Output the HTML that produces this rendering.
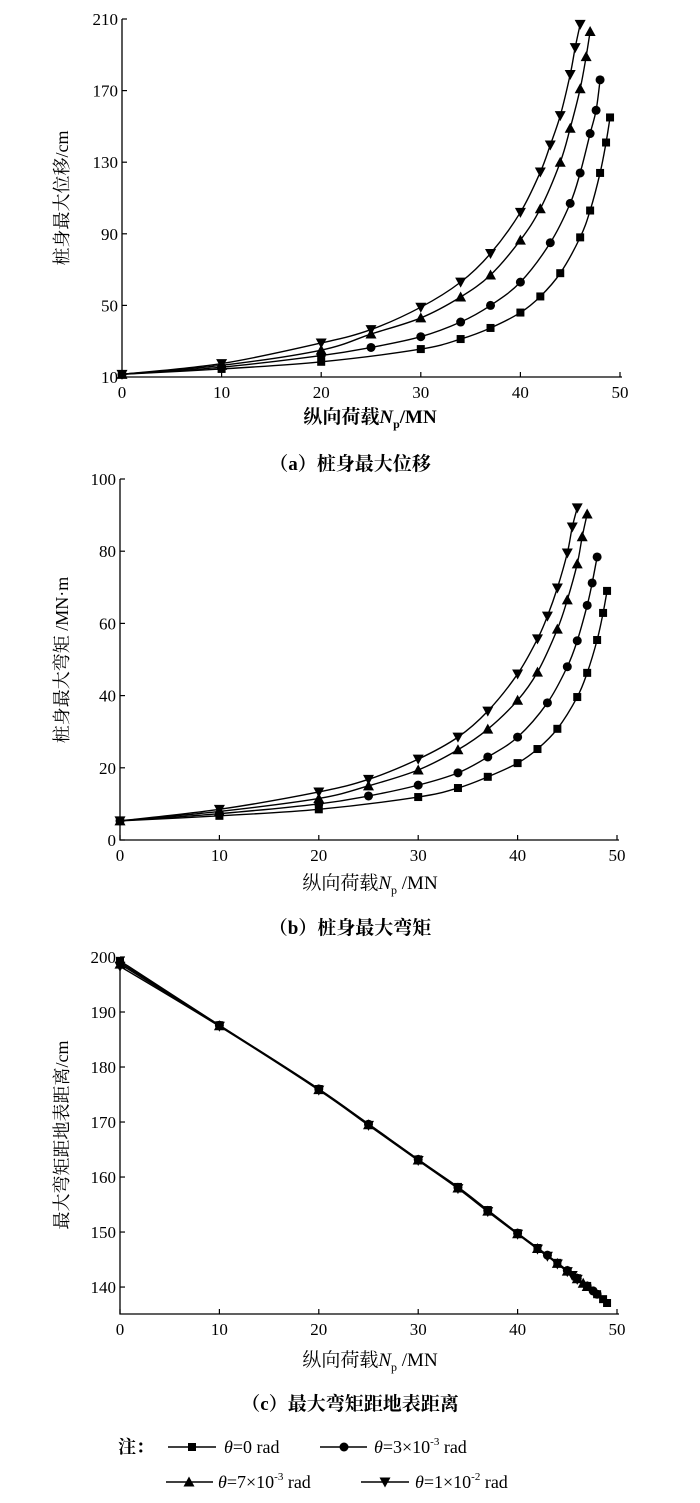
<!DOCTYPE html>
<html><head><meta charset="utf-8">
<style>
html,body{margin:0;padding:0;background:#fff;}
svg{display:block;}
text{font-family:"Liberation Serif","Noto Serif CJK SC",serif;fill:#000;}
</style></head>
<body>
<svg id="c" width="700" height="1503" viewBox="0 0 700 1503">
<text x="370" y="423" font-size="19" font-weight="bold" text-anchor="middle">纵向荷载<tspan font-style="italic">N</tspan><tspan font-size="12" dy="5">p</tspan><tspan dy="-5">/MN</tspan></text>
<text x="350" y="470" font-size="19" font-weight="bold" text-anchor="middle">（a）桩身最大位移</text>
<text x="370" y="889" font-size="19" text-anchor="middle">纵向荷载<tspan font-style="italic">N</tspan><tspan font-size="12" dy="5">p</tspan><tspan dy="-5"> /MN</tspan></text>
<text x="350" y="934" font-size="19" font-weight="bold" text-anchor="middle">（b）桩身最大弯矩</text>
<text x="370" y="1366" font-size="19" text-anchor="middle">纵向荷载<tspan font-style="italic">N</tspan><tspan font-size="12" dy="5">p</tspan><tspan dy="-5"> /MN</tspan></text>
<text x="350" y="1410" font-size="19" font-weight="bold" text-anchor="middle">（c）最大弯矩距地表距离</text>
<g>
<text x="118" y="1453" font-size="18" font-weight="bold">注：</text>
<g>
<line x1="168" y1="1447" x2="216" y2="1447" stroke="#000" stroke-width="1.4"/><rect x="188" y="1443" width="8" height="8" fill="#000"/>
<text x="224" y="1453" font-size="18"><tspan font-style="italic">θ</tspan>=0 rad</text></g>
<g>
<line x1="320" y1="1447" x2="367" y2="1447" stroke="#000" stroke-width="1.4"/><circle cx="344" cy="1447" r="4.5" fill="#000"/>
<text x="374" y="1453" font-size="18"><tspan font-style="italic">θ</tspan>=3×10<tspan font-size="11" dy="-8">-3</tspan><tspan dy="8"> rad</tspan></text></g>
<g>
<line x1="166" y1="1482" x2="213" y2="1482" stroke="#000" stroke-width="1.4"/><polygon points="189,1476.5 183.5,1486.5 194.5,1486.5" fill="#000"/>
<text x="218" y="1488" font-size="18"><tspan font-style="italic">θ</tspan>=7×10<tspan font-size="11" dy="-8">-3</tspan><tspan dy="8"> rad</tspan></text></g>
<g>
<line x1="361" y1="1482" x2="409" y2="1482" stroke="#000" stroke-width="1.4"/><polygon points="385,1487.5 379.5,1477.5 390.5,1477.5" fill="#000"/>
<text x="415" y="1488" font-size="18"><tspan font-style="italic">θ</tspan>=1×10<tspan font-size="11" dy="-8">-2</tspan><tspan dy="8"> rad</tspan></text></g>
</g>
</svg>
<script>
// ---------- data ----------
const aSqN=[0,10,20,30,34,37,40,42,44,46,47,48,48.6,49];
const aSqV=[11.5,14.5,18.5,25.6,31.2,37.4,46,55,68,88,103,124,141,155];
const aCiN=[0,10,20,25,30,34,37,40,43,45,46,47,47.6,48];
const aCiV=[11.5,15.5,22,26.5,32.5,40.7,50,63,85,107,124,146,159,176];
const aTrN=[0,10,20,25,30,34,37,40,42,44,45,46,46.6,47];
const aTrV=[11.5,16.5,25,34,43,54.7,67,86.5,104,130,149,171,189,203];
const aIvN=[0,10,20,25,30,34,37,40,42,43,44,45,45.5,46];
const aIvV=[11.5,17.5,29,36.5,49,63,79,102,124.5,139.6,156,179,194,207];
const aYTicks=[10,50,90,130,170,210];
const xTicks=[0,10,20,30,40,50];
const bSqN=[0,10,20,30,34,37,40,42,44,46,47,48,48.6,49];
const bSqV=[5.3,6.7,8.5,11.9,14.4,17.5,21.3,25.2,30.8,39.6,46.3,55.4,62.9,69];
const bCiN=[0,10,20,25,30,34,37,40,43,45,46,47,47.5,48];
const bCiV=[5.3,7.3,10,12.2,15.2,18.6,23,28.5,38,48,55.2,65,71.2,78.4];
const bTrN=[0,10,20,25,30,34,37,40,42,44,45,46,46.5,47];
const bTrV=[5.3,7.9,11.5,15,19.4,25,30.7,38.7,46.5,58.4,66.5,76.5,84,90.3];
const bIvN=[0,10,20,25,30,34,37,40,42,43,44,45,45.5,46];
const bIvV=[5.3,8.5,13.3,16.8,22.4,28.5,35.7,46,55.7,62,69.8,79.5,86.7,92];
const bYTicks=[0,20,40,60,80,100];
const cSqN=[0,10,20,30,34,37,40,42,44,46,47,48,48.6,49];
const cSqV=[199.3,187.6,176,163.2,158.2,154,149.8,147.1,144.4,141.6,140.2,138.7,137.8,137.1];
const cCiN=[0,10,20,25,30,34,37,40,43,45,46,47,47.6,48];
const cCiV=[199,187.6,176,169.6,163.2,158.1,153.9,149.8,145.8,143,141.6,140.2,139.3,138.7];
const cTrN=[0,10,20,25,30,34,37,40,42,44,45,46,46.6,47];
const cTrV=[198.7,187.5,175.9,169.5,163.1,158,153.8,149.7,147,144.3,142.9,141.5,140.7,140.1];
const cIvN=[0,10,20,25,30,34,37,40,42,43,44,45,45.5,46];
const cIvV=[198.3,187.4,175.8,169.4,163,157.9,153.7,149.6,146.9,145.6,144.2,142.8,142.1,141.4];
const cYTicks=[140,150,160,170,180,190,200];

const NS='http://www.w3.org/2000/svg';
const svg=document.getElementById('c');
function mk(tag,attrs,parent){const e=document.createElementNS(NS,tag);for(const k in attrs)e.setAttribute(k,attrs[k]);(parent||svg).appendChild(e);return e;}
function txt(s,x,y,size,parent,extra){const t=mk('text',Object.assign({x:x,y:y,'font-size':size,'text-anchor':'middle'},extra||{}),parent);t.textContent=s;return t;}

function marker(g,type,x,y){
  let e;
  if(type==='sq'){e=mk('rect',{x:x-4,y:y-4,width:8,height:8,fill:'#000'},g);}
  else if(type==='ci'){e=mk('circle',{cx:x,cy:y,r:4.5,fill:'#000'},g);}
  else if(type==='tr'){e=mk('polygon',{points:`${x},${y-5.5} ${x-5.5},${y+4.5} ${x+5.5},${y+4.5}`,fill:'#000'},g);}
  else {e=mk('polygon',{points:`${x},${y+5.5} ${x-5.5},${y-4.5} ${x+5.5},${y-4.5}`,fill:'#000'},g);}
  
  
}

function chart(cfg){
  const g=mk('g',{});
  
  
  const sx=v=>cfg.x0+(v-cfg.xmin)/(cfg.xmax-cfg.xmin)*(cfg.x1-cfg.x0);
  const sy=v=>cfg.y0-(v-cfg.ymin)/(cfg.ymax-cfg.ymin)*(cfg.y0-cfg.y1);
  const ax=mk('path',{d:`M${cfg.x0},${cfg.y1} L${cfg.x0},${cfg.y0} L${cfg.x1+2},${cfg.y0}`,stroke:'#000','stroke-width':1.3,fill:'none'},g);
  
  
  xTicks.forEach(v=>{
    const x=sx(v);
    mk('line',{x1:x,y1:cfg.y0,x2:x,y2:cfg.y0-5,stroke:'#000','stroke-width':1.2},g);
    const t=txt(String(v),x,cfg.y0+21,17,g);
    
    
  });
  cfg.yt.forEach(v=>{
    const y=sy(v);
    mk('line',{x1:cfg.x0,y1:y,x2:cfg.x0+5,y2:y,stroke:'#000','stroke-width':1.2},g);
    const t=txt(String(v),cfg.x0-4,y+6,17,g,{'text-anchor':'end'});
    
    
  });
  cfg.series.forEach(s=>{
    const pts=s.n.map((n,i)=>[sx(n),sy(s.v[i])]);
    let d='M'+pts[0][0]+','+pts[0][1];
    for(let i=0;i<pts.length-1;i++){
      const p0=pts[Math.max(0,i-1)],p1=pts[i],p2=pts[i+1],p3=pts[Math.min(pts.length-1,i+2)];
      const c1=[p1[0]+(p2[0]-p0[0])/6,p1[1]+(p2[1]-p0[1])/6];
      const c2=[p2[0]-(p3[0]-p1[0])/6,p2[1]-(p3[1]-p1[1])/6];
      d+=` C${c1[0]},${c1[1]} ${c2[0]},${c2[1]} ${p2[0]},${p2[1]}`;
    }
    const l=mk('path',{d:d,stroke:'#000','stroke-width':1.4,fill:'none'},g);
    
    
    pts.forEach(p=>marker(g,s.t,p[0],p[1]));
  });
  const yt=txt(cfg.ytitle,0,0,cfg.ysize||18,g,{transform:`translate(${cfg.ytx},${cfg.yty}) rotate(-90)`});
  
  
  return g;
}

chart({name:'chart-a-max-displacement',x0:122,x1:620,y0:377,y1:19,xmin:0,xmax:50,ymin:10,ymax:210,yt:aYTicks,
  ytitle:'桩身最大位移/cm',ytx:68,yty:198,
  series:[{n:aSqN,v:aSqV,t:'sq'},{n:aCiN,v:aCiV,t:'ci'},{n:aTrN,v:aTrV,t:'tr'},{n:aIvN,v:aIvV,t:'iv'}]});
chart({name:'chart-b-max-moment',x0:120,x1:617,y0:840,y1:479,xmin:0,xmax:50,ymin:0,ymax:100,yt:bYTicks,
  ytitle:'桩身最大弯矩 /MN·m',ytx:68,yty:660,
  series:[{n:bSqN,v:bSqV,t:'sq'},{n:bCiN,v:bCiV,t:'ci'},{n:bTrN,v:bTrV,t:'tr'},{n:bIvN,v:bIvV,t:'iv'}]});
chart({name:'chart-c-moment-depth',x0:120,x1:617,y0:1314,y1:957,xmin:0,xmax:50,ymin:135.1,ymax:200,yt:cYTicks,
  ytitle:'最大弯矩距地表距离/cm',ytx:68,yty:1135,
  series:[{n:cSqN,v:cSqV,t:'sq'},{n:cCiN,v:cCiV,t:'ci'},{n:cTrN,v:cTrV,t:'tr'},{n:cIvN,v:cIvV,t:'iv'}]});
</script>
</body></html>
